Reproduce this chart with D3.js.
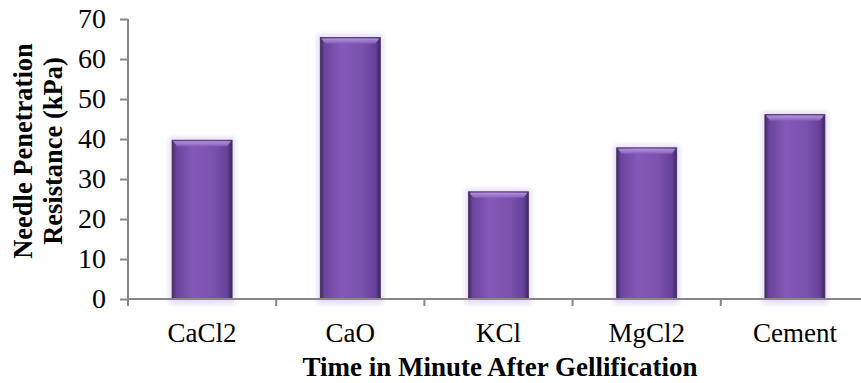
<!DOCTYPE html>
<html>
<head>
<meta charset="utf-8">
<script src="https://cdn.jsdelivr.net/npm/d3@7"></script>
<style>
  body { margin: 0; background: #fff; }
  svg { display: block; }
  text { font-family: "Liberation Serif", "Times New Roman", serif; fill: #000; }
</style>
</head>
<body>
<svg id="chart" width="861" height="383"></svg>
<script>
// data
var categories = ["CaCl2", "CaO", "KCl", "MgCl2", "Cement"];
var resistance = [39.7, 65.4, 26.8, 37.8, 46.1];
var yTicks = [0, 10, 20, 30, 40, 50, 60, 70];

var width = 861, height = 383;
var plotLeft = 128, plotTop = 19, plotBottom = 299, plotRight = 869;

var svg = d3.select("#chart");

var x = d3.scaleBand()
    .domain(categories)
    .range([plotLeft, plotRight])
    .paddingInner(0.595)
    .paddingOuter(0.2975);

var y = d3.scaleLinear()
    .domain([0, 70])
    .range([plotBottom, plotTop]);

// gradients for the bars
var defs = svg.append("defs");

var body = defs.append("linearGradient")
    .attr("id", "barBody")
    .attr("x1", "0%").attr("x2", "100%")
    .attr("y1", "0%").attr("y2", "0%");
body.append("stop").attr("offset", "0%").attr("stop-color", "#3f2a60");
body.append("stop").attr("offset", "7%").attr("stop-color", "#6a449b");
body.append("stop").attr("offset", "35%").attr("stop-color", "#8459b9");
body.append("stop").attr("offset", "70%").attr("stop-color", "#7a51ad");
body.append("stop").attr("offset", "92%").attr("stop-color", "#65419a");
body.append("stop").attr("offset", "100%").attr("stop-color", "#3b2858");

var cap = defs.append("linearGradient")
    .attr("id", "barCap")
    .attr("x1", "0%").attr("x2", "0%")
    .attr("y1", "0%").attr("y2", "100%");
cap.append("stop").attr("offset", "0%").attr("stop-color", "#b99be0");
cap.append("stop").attr("offset", "100%").attr("stop-color", "#8860bb");

var glow = defs.append("filter")
    .attr("id", "glow")
    .attr("x", "-30%").attr("y", "-30%")
    .attr("width", "160%").attr("height", "160%");
glow.append("feGaussianBlur").attr("stdDeviation", 2.5);

var bars = svg.append("g")
    .selectAll("g")
    .data(categories)
    .enter()
    .append("g");

// soft halo round each bar
bars.append("rect")
    .attr("x", function(d) { return x(d) - 3; })
    .attr("y", function(d, i) { return y(resistance[i]) - 3; })
    .attr("width", x.bandwidth() + 6)
    .attr("height", function(d, i) { return y(0) - y(resistance[i]) + 8; })
    .attr("fill", "#e6dcf4")
    .attr("filter", "url(#glow)");

bars.append("rect")
    .attr("x", function(d) { return x(d); })
    .attr("y", function(d, i) { return y(resistance[i]); })
    .attr("width", x.bandwidth())
    .attr("height", function(d, i) { return y(0) - y(resistance[i]); })
    .attr("fill", "url(#barBody)")
    .attr("stroke", "#45305f")
    .attr("stroke-width", 0.8);

// bevelled top
bars.append("path")
    .attr("d", function(d, i) {
        var x0 = x(d), x1 = x(d) + x.bandwidth(), t = y(resistance[i]);
        return "M" + (x0 + 1) + "," + (t + 1) + "L" + (x1 - 1) + "," + (t + 1) +
            "L" + (x1 - 5) + "," + (t + 6) + "L" + (x0 + 5) + "," + (t + 6) + "Z";
    })
    .attr("fill", "url(#barCap)")
    .attr("opacity", 0.9);

// y axis
var yAxis = svg.append("g")
    .attr("transform", "translate(" + plotLeft + ",0)")
    .call(d3.axisLeft(y).tickValues(yTicks).tickSize(8).tickPadding(14));
yAxis.select(".domain")
    .attr("d", "M0," + plotTop + "V" + plotBottom)
    .attr("stroke", "#878787").attr("stroke-width", 2);
yAxis.selectAll(".tick line").attr("stroke", "#878787").attr("stroke-width", 2);
yAxis.selectAll(".tick text")
    .style("font-family", "'Liberation Serif', serif")
    .style("font-size", "28px")
    .attr("fill", "#000");

// x axis: labels under the bars, ticks on the band edges
var xAxis = svg.append("g")
    .attr("transform", "translate(0," + plotBottom + ")")
    .call(d3.axisBottom(x).tickSize(0).tickPadding(24));
xAxis.select(".domain")
    .attr("d", "M" + plotLeft + ",0H" + width)
    .attr("stroke", "#878787").attr("stroke-width", 2);
xAxis.selectAll(".tick text")
    .style("font-family", "'Liberation Serif', serif")
    .style("font-size", "27px")
    .attr("fill", "#000");

var edge = (x.step() - x.bandwidth()) / 2;
xAxis.selectAll(".edge")
    .data(categories)
    .enter()
    .append("line")
    .attr("class", "edge")
    .attr("x1", function(d) { return x(d) - edge; })
    .attr("x2", function(d) { return x(d) - edge; })
    .attr("y1", 0)
    .attr("y2", 7)
    .attr("stroke", "#878787")
    .attr("stroke-width", 2);

// axis titles
svg.append("text")
    .attr("x", 500)
    .attr("y", 376)
    .attr("text-anchor", "middle")
    .style("font-size", "27px")
    .style("font-weight", "bold")
    .text("Time in Minute After Gellification");

var ytitle = svg.append("text")
    .attr("transform", "translate(0,151) rotate(-90)")
    .attr("text-anchor", "middle")
    .style("font-size", "26.5px")
    .style("font-weight", "bold");
ytitle.append("tspan").attr("x", 0).attr("y", 32).text("Needle Penetration");
ytitle.append("tspan").attr("x", 0).attr("y", 62).text("Resistance (kPa)");
</script>
</body>
</html>
